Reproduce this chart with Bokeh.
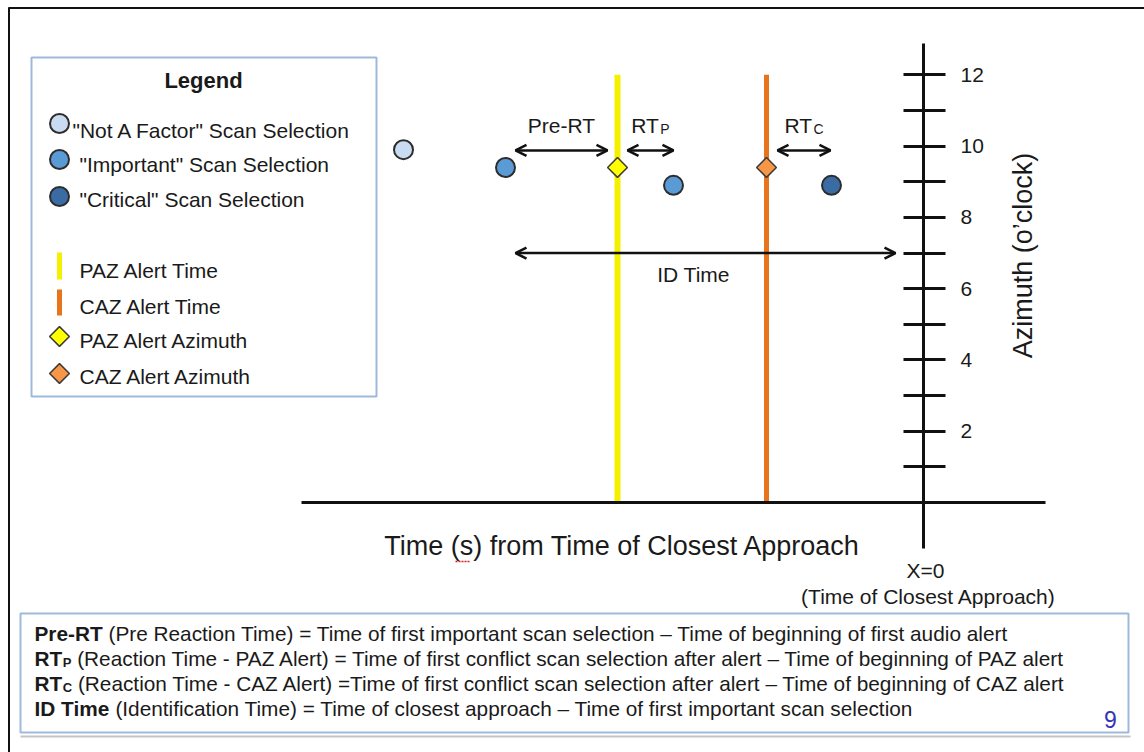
import math
from bokeh.plotting import figure
from bokeh.models import (ColumnDataSource, Range1d, LinearAxis, FixedTicker,
                          Arrow, OpenHead)
from bokeh.core.properties import value
from bokeh.embed import file_html
from bokeh.resources import INLINE

# ------------------------------------------------------------------ data
# scan selections: time (s) from time of closest approach, azimuth (o'clock)
scan_time = [-52.0, -41.8, -25.0, -9.2]
scan_azimuth = [9.9, 9.4, 8.9, 8.9]
scan_class = ["Not A Factor", "Important", "Important", "Critical"]

# alerts
alert_zone = ["PAZ", "CAZ"]
alert_time = [-30.6, -15.7]
alert_azimuth = [9.4, 9.4]

# azimuth axis ticks (o'clock)
azimuth_ticks = [2, 4, 6, 8, 10, 12]
azimuth_minor_ticks = [1, 3, 5, 7, 9, 11]

# measured intervals
interval_name = ["Pre-RT", "RTP", "RTC", "ID Time"]
interval_start = [scan_time[1], alert_time[0], alert_time[1], scan_time[1]]
interval_end = [alert_time[0], scan_time[2], scan_time[3], 0.0]

legend_scan_labels = ['"Not A Factor" Scan Selection',
                      '"Important" Scan Selection',
                      '"Critical" Scan Selection']
legend_alert_labels = ["PAZ Alert Time", "CAZ Alert Time",
                       "PAZ Alert Azimuth", "CAZ Alert Azimuth"]

footnote_body = [
    "(Pre Reaction Time) = Time of first important scan selection \u2013 Time of beginning of first audio alert",
    "(Reaction Time - PAZ Alert) = Time of first conflict scan selection after alert \u2013 Time of beginning of PAZ alert",
    "(Reaction Time - CAZ Alert) =Time of first conflict scan selection after alert \u2013 Time of beginning of CAZ alert",
    "(Identification Time) = Time of closest approach \u2013 Time of first important scan selection",
]

# ------------------------------------------------------------------ styles
FONT = "Liberation Sans"
TXT = "#1a1a1a"
SCAN_COLORS = {"Not A Factor": "#c9dcf2", "Important": "#5b9bd5", "Critical": "#3b6ba3"}
ALERT_LINE_COLORS = ["#f5f000", "#e8741c"]
ALERT_LINE_WIDTHS = [6, 5]
ALERT_DIAMOND_COLORS = ["#ffff00", "#f79646"]
BOX_LINE = "#9db9db"

# page geometry (layout only)
OFF = 0
FIG_W, FIG_H = 1144, 752
X0, PX_PER_S = 923.0, 10.0      # page x of t = 0, px per second
Y0, PX_PER_H = 502.0, 35.64     # page y of azimuth 0, px per o'clock


def px_x(X):
    return (X - X0) / PX_PER_S


def px_y(Y):
    return (Y0 - Y) / PX_PER_H


p = figure(width=FIG_W, height=FIG_H, output_backend="svg", toolbar_location=None,
           x_axis_location=None, y_axis_location=None,
           x_range=Range1d(px_x(OFF), px_x(OFF + FIG_W)),
           y_range=Range1d(px_y(OFF + FIG_H), px_y(OFF)),
           min_border=0, outline_line_color=None,
           background_fill_color="white", border_fill_color="white")
p.xgrid.visible = False
p.ygrid.visible = False


def T(X, Y, s, size=21, bold=False, align="left", color=TXT, angle=0.0, xo=0, yo=0):
    p.text(x=[px_x(X)], y=[px_y(Y)], text=[s], text_font=value(FONT),
           text_font_size=f"{size}px", text_font_style="bold" if bold else "normal",
           text_color=color, text_align=align, text_baseline="middle",
           angle=angle, x_offset=xo, y_offset=yo)


# Arial / Liberation Sans advance widths (per 1000 em)
BOLD_W = {'P': 667, 'r': 389, 'e': 556, '-': 333, 'R': 722, 'T': 611, 'I': 278,
          'D': 722, ' ': 278, 'i': 278, 'm': 889, 'C': 722}
REG_W = {'R': 722, 'T': 611, 'P': 667, 'C': 722, ' ': 278}


def tw(s, size, table):
    return sum(table[c] for c in s) * size / 1000.0


# ------------------------------------------------------------------ page frame
p.segment(x0=[px_x(8), px_x(8.5)], y0=[px_y(7.5), px_y(7)],
          x1=[px_x(FIG_W), px_x(8.5)], y1=[px_y(7.5), px_y(FIG_H)],
          line_color="#111111", line_width=2)

# ------------------------------------------------------------------ axes
xax = LinearAxis(fixed_location=0, bounds=(px_x(301), px_x(1045)),
                 ticker=FixedTicker(ticks=[]), axis_line_width=3, axis_line_color="#111111",
                 major_tick_in=0, major_tick_out=0, minor_tick_in=0, minor_tick_out=0,
                 major_label_text_font_size="0px")
p.add_layout(xax, "below")

yax = LinearAxis(fixed_location=0, bounds=(px_y(548), px_y(43)),
                 ticker=FixedTicker(ticks=azimuth_ticks, minor_ticks=azimuth_minor_ticks),
                 axis_line_width=3, axis_line_color="#111111",
                 major_tick_line_width=3, minor_tick_line_width=3,
                 major_tick_line_color="#111111", minor_tick_line_color="#111111",
                 major_tick_in=20, major_tick_out=22, minor_tick_in=20, minor_tick_out=22,
                 major_label_text_font=FONT, major_label_text_font_size="21px",
                 major_label_text_color=TXT, major_label_standoff=15)
p.add_layout(yax, "right")

T(1022, 255, "Azimuth (o\u2019clock)", 27, align="center", angle=math.pi / 2)
T(622, 545, "Time (s) from Time of Closest Approach", 27, align="center")
p.line(x=[px_x(455), px_x(469)], y=[px_y(561), px_y(561)], line_color="#d42020",
       line_width=1.5, line_dash="2 1")
T(925, 570, "X=0", 21, align="center")
T(928, 596, "(Time of Closest Approach)", 21, align="center")

# ------------------------------------------------------------------ alerts
alert_src = ColumnDataSource(dict(t=alert_time, az=alert_azimuth,
                                  y0=[0.0, 0.0], y1=[12.0, 12.0],
                                  lc=ALERT_LINE_COLORS, lw=ALERT_LINE_WIDTHS,
                                  fc=ALERT_DIAMOND_COLORS))
p.segment(x0="t", y0="y0", x1="t", y1="y1", line_color="lc", line_width="lw", source=alert_src)
p.scatter(x="t", y="az", marker="square", angle=math.pi / 4, size=14,
          fill_color="fc", line_color="#3a3a3a", line_width=1.5, source=alert_src)

# ------------------------------------------------------------------ scans
scan_src = ColumnDataSource(dict(t=scan_time, az=scan_azimuth,
                                 fc=[SCAN_COLORS[c] for c in scan_class]))
p.scatter(x="t", y="az", marker="circle", size=19, fill_color="fc",
          line_color="#2d2d2d", line_width=2, source=scan_src)

# ------------------------------------------------------------------ intervals
PAD_START_PX = [10, 10, 11, 10]
PAD_END_PX = [10, 0, 1, 28]
ARROW_AZ = [9.88, 9.88, 9.88, 7.0]
xs = [s + a / PX_PER_S for s, a in zip(interval_start, PAD_START_PX)]
xe = [e - b / PX_PER_S for e, b in zip(interval_end, PAD_END_PX)]
arr_src = ColumnDataSource(dict(xs=xs, xe=xe, y=ARROW_AZ))
p.add_layout(Arrow(start=OpenHead(size=11, line_width=2.5, line_color="#111111"),
                   end=OpenHead(size=11, line_width=2.5, line_color="#111111"),
                   x_start="xs", y_start="y", x_end="xe", y_end="y",
                   line_width=2.5, line_color="#111111", source=arr_src))

for i, name in enumerate(interval_name):
    mid = (xs[i] + xe[i]) / 2.0
    if name == "ID Time":
        p.text(x=[mid], y=[ARROW_AZ[i]], text=[name], text_font=value(FONT),
               text_font_size="21px", text_color=TXT, text_align="center",
               text_baseline="middle", x_offset=-12, y_offset=21)
    elif name == "Pre-RT":
        p.text(x=[mid], y=[ARROW_AZ[i]], text=[name], text_font=value(FONT),
               text_font_size="21px", text_color=TXT, text_align="center",
               text_baseline="middle", y_offset=-25)
    else:
        sub = name[2]
        w_main = tw("RT", 21, REG_W)
        w_sub = tw(sub, 14, REG_W)
        start = -(w_main + 1 + w_sub) / 2.0
        p.text(x=[mid], y=[ARROW_AZ[i]], text=["RT"], text_font=value(FONT),
               text_font_size="21px", text_color=TXT, text_align="left",
               text_baseline="middle", x_offset=start, y_offset=-25)
        p.text(x=[mid], y=[ARROW_AZ[i]], text=[sub], text_font=value(FONT),
               text_font_size="14px", text_color=TXT, text_align="left",
               text_baseline="middle", x_offset=start + w_main + 1, y_offset=-21)

# ------------------------------------------------------------------ legend box
p.quad(left=[px_x(31)], right=[px_x(376)], top=[px_y(57)], bottom=[px_y(396)],
       fill_color="white", line_color=BOX_LINE, line_width=2)
T(203, 80, "Legend", 22, bold=True, align="center")
leg_scan_src = ColumnDataSource(dict(x=[px_x(59)] * 3, y=[px_y(123), px_y(159), px_y(196)],
                                     fc=[SCAN_COLORS[c] for c in ["Not A Factor", "Important", "Critical"]]))
p.scatter(x="x", y="y", marker="circle", size=19, fill_color="fc",
          line_color="#2d2d2d", line_width=2, source=leg_scan_src)
for X, Y, s in zip([72, 79, 79], [130, 164, 199], legend_scan_labels):
    T(X, Y, s, 21)
p.segment(x0=[px_x(59), px_x(59)], y0=[px_y(252), px_y(289)],
          x1=[px_x(59), px_x(59)], y1=[px_y(279), px_y(315)],
          line_color=ALERT_LINE_COLORS, line_width=5)
p.scatter(x=[px_x(59), px_x(59)], y=[px_y(336), px_y(373)], marker="square",
          angle=math.pi / 4, size=14, fill_color=ALERT_DIAMOND_COLORS,
          line_color="#3a3a3a", line_width=1.5)
for Y, s in zip([270, 306, 340, 376], legend_alert_labels):
    T(79, Y, s, 21)

# ------------------------------------------------------------------ footnote box
p.segment(x0=[px_x(20)], y0=[px_y(736)], x1=[px_x(1130)], y1=[px_y(736)],
          line_color="#c4c4c4", line_width=2)
p.quad(left=[px_x(20)], right=[px_x(1128)], top=[px_y(613)], bottom=[px_y(732)],
       fill_color="white", line_color=BOX_LINE, line_width=2)

FN = 20.8
FN_SUB = 13
FN_X = 34
FN_Y = [633, 658, 683, 708]
sp = tw(" ", FN, REG_W)

# Pre-RT
T(FN_X, FN_Y[0], "Pre-RT", FN, bold=True)
T(FN_X, FN_Y[0], footnote_body[0], FN, xo=tw("Pre-RT", FN, BOLD_W) + sp)
# RT_P and RT_C
for row, sub in [(1, "P"), (2, "C")]:
    w_rt = tw("RT", FN, BOLD_W)
    w_sub = tw(sub, FN_SUB, BOLD_W)
    T(FN_X, FN_Y[row], "RT", FN, bold=True)
    T(FN_X, FN_Y[row], sub, FN_SUB, bold=True, xo=w_rt + 0.5, yo=4)
    T(FN_X, FN_Y[row], footnote_body[row], FN, xo=w_rt + 0.5 + w_sub + sp)
# ID Time
T(FN_X, FN_Y[3], "ID Time", FN, bold=True)
T(FN_X, FN_Y[3], footnote_body[3], FN, xo=tw("ID Time", FN, BOLD_W) + sp)

T(1110, 719, "9", 23, align="center", color="#3535b5")

open("out.html", "w").write(file_html(p, INLINE))
